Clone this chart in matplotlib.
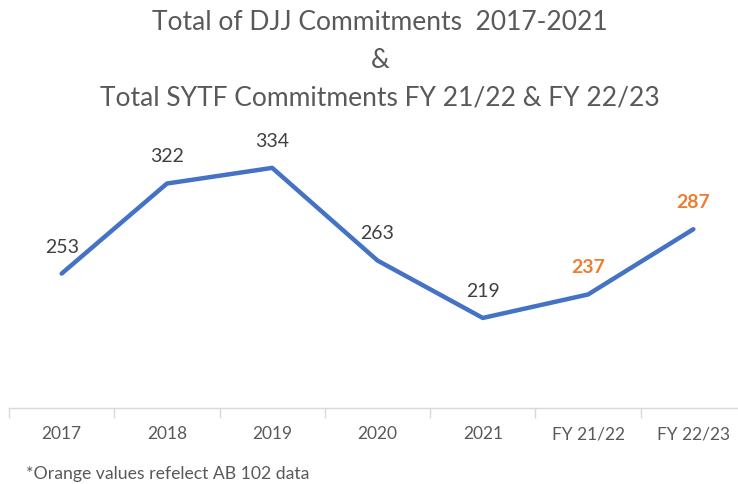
import matplotlib

matplotlib.use("Agg")
import matplotlib.pyplot as plt
from matplotlib.ticker import FixedLocator

# ---------------------------------------------------------------------------
# Data
# ---------------------------------------------------------------------------
CATEGORIES = ["2017", "2018", "2019", "2020", "2021", "FY 21/22", "FY 22/23"]
COMMITMENTS = [253, 322, 334, 263, 219, 237, 287]
# AB 102 (SYTF) values are shown in orange
IS_AB102 = [False, False, False, False, False, True, True]

LINE_COLOR = "#4472C4"
ORANGE = "#ED7D31"
TEXT_COLOR = "#595959"
AXIS_COLOR = "#D9D9D9"

plt.rcParams["font.family"] = ["Lato", "DejaVu Sans"]

fig = plt.figure(figsize=(7.38, 4.84), dpi=100)
W, H = 738, 484
# plot area in pixels: left 9, right 746 (slightly cropped), bottom 408, top 147
ax = fig.add_axes([9 / W, 1 - 408 / H, (746 - 9) / W, (408 - 147) / H])

xs = list(range(len(CATEGORIES)))
ax.plot(xs, COMMITMENTS, color=LINE_COLOR, linewidth=3.2,
        solid_capstyle="round", solid_joinstyle="round")

for x, v, orange in zip(xs, COMMITMENTS, IS_AB102):
    ax.annotate(
        str(v), (x, v), xytext=(0, 13), textcoords="offset points",
        ha="center", va="bottom", fontsize=14,
        color=ORANGE if orange else "#404040",
        fontweight="bold" if orange else "normal",
    )

ax.set_xlim(-0.5, len(CATEGORIES) - 0.5)
ax.set_ylim(150, 350)

for side in ("top", "right", "left"):
    ax.spines[side].set_visible(False)
ax.spines["bottom"].set_color(AXIS_COLOR)
ax.spines["bottom"].set_linewidth(1.0)

ax.set_yticks([])
ax.set_xticks(xs)
ax.set_xticklabels(CATEGORIES, fontsize=12.5, color=TEXT_COLOR)
ax.tick_params(axis="x", which="major", length=0, pad=13)
ax.xaxis.set_minor_locator(FixedLocator([i - 0.5 for i in range(len(CATEGORIES) + 1)]))
ax.tick_params(axis="x", which="minor", length=7, color=AXIS_COLOR, width=1.0)

title_x = 380 / W
fig.text(title_x, 1 - 22 / H, "Total of DJJ Commitments  2017-2021",
         ha="center", va="center", fontsize=19, color=TEXT_COLOR)
fig.text(title_x, 1 - 60 / H, "&",
         ha="center", va="center", fontsize=19, color=TEXT_COLOR)
fig.text(title_x, 1 - 98 / H, "Total SYTF Commitments FY 21/22 & FY 22/23",
         ha="center", va="center", fontsize=19, color=TEXT_COLOR)

fig.text(26 / W, 1 - 474 / H, "*Orange values refelect AB 102 data",
         ha="left", va="center", fontsize=12.7, color=TEXT_COLOR)

fig.savefig("out.png", dpi=100)
